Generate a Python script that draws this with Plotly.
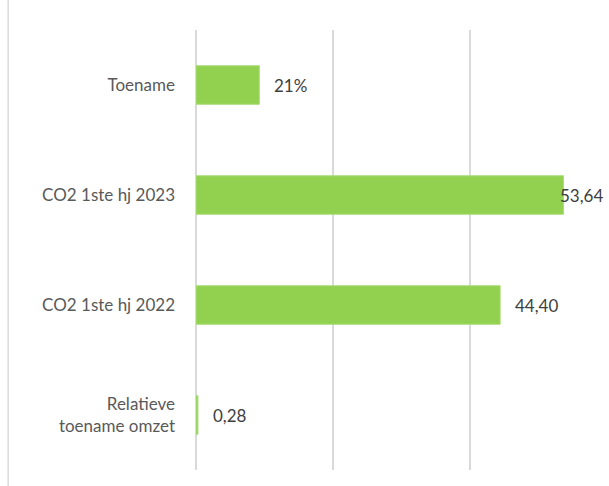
import plotly.graph_objects as go

# data
categories = ["Relatieve<br>toename omzet", "CO2 1ste hj 2022", "CO2 1ste hj 2023", "Toename"]
values = [0.28, 44.40, 53.64, 9.24]
labels = ["0,28", "44,40", "53,64", "21%"]

green = "#92D050"
font = "Lato"

fig = go.Figure()
fig.add_trace(go.Bar(
    y=categories, x=values, orientation="h",
    marker=dict(color=green, line=dict(color="#A9DC78", width=1)),
    width=0.35, hoverinfo="skip",
))

# data labels (the biggest one gets pushed back inside the chart edge, like Excel does)
for cat, v, lab in zip(categories, values, labels):
    if v > 50:
        fig.add_annotation(x=1, xref="paper", y=cat, text=lab, showarrow=False,
                           xanchor="right", xshift=-2, font=dict(size=17, color="#404040", family=font))
    else:
        fig.add_annotation(x=v, y=cat, text=lab, showarrow=False,
                           xanchor="left", xshift=13, font=dict(size=17, color="#404040", family=font))

# chart area border on the left
fig.add_shape(type="line", xref="paper", yref="paper", x0=-0.457, x1=-0.457, y0=-0.05, y1=1.08,
              line=dict(color="#D9D9D9", width=1.5))

fig.update_layout(
    width=609, height=486,
    margin=dict(l=196, r=2, t=30, b=16),
    plot_bgcolor="white", paper_bgcolor="white",
    showlegend=False,
    font=dict(family=font, size=17, color="#595959"),
    bargap=0.65,
)
fig.update_xaxes(range=[0, 60], dtick=20, showgrid=True, gridcolor="#D9D9D9", gridwidth=1.5,
                 showticklabels=False, zeroline=True, zerolinecolor="#D9D9D9", zerolinewidth=1.5,
                 showline=False, fixedrange=True)
fig.update_yaxes(showgrid=False, ticks="", ticklabelstandoff=20, automargin=False, fixedrange=True)

# page has a default 8px body margin, drop it so the figure sits at 0,0
fig.write_html("out.html", config={"displayModeBar": False},
               post_script="document.body.style.margin='0px';")
